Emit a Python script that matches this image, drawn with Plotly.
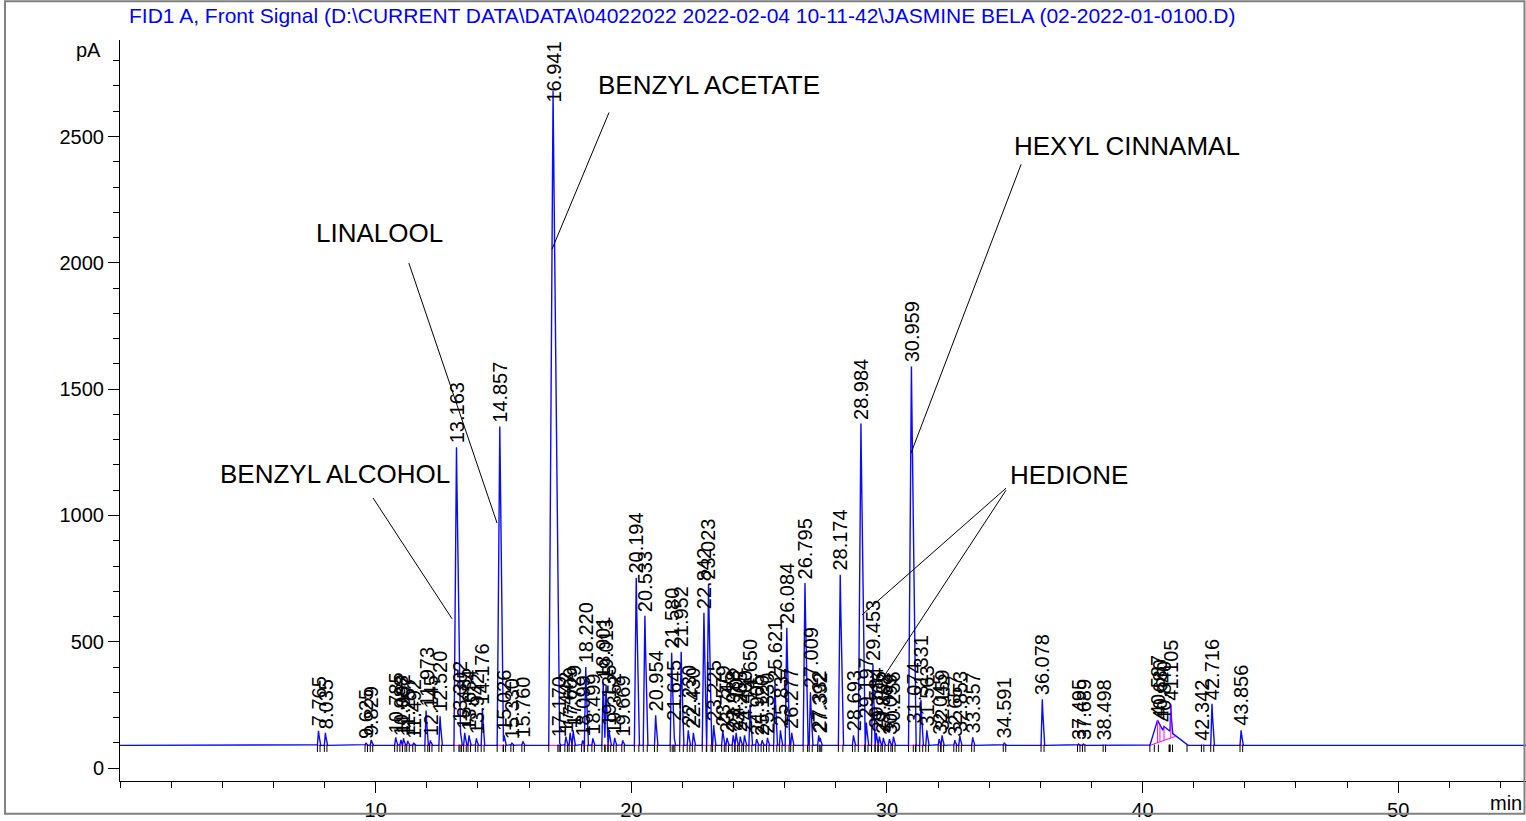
import numpy as np
import plotly.graph_objects as go

# ---------------- data ----------------
title_text = "FID1 A, Front Signal (D:\\CURRENT DATA\\DATA\\04022022 2022-02-04 10-11-42\\JASMINE BELA (02-2022-01-0100.D)"

baseline_pA = 90.0

peak_times = [7.765, 8.035, 9.625, 9.829, 10.785, 10.988, 11.092, 11.257, 11.492, 11.973,
              12.145, 12.520, 13.163, 13.302, 13.485, 13.654, 13.942, 14.176, 14.857, 15.026,
              15.330, 15.760, 16.941, 17.170, 17.442, 17.609, 17.729, 18.099, 18.220, 18.499,
              18.901, 19.013, 19.135, 19.352, 19.669, 20.194, 20.533, 20.954, 21.580, 21.645,
              21.952, 22.230, 22.430, 22.842, 23.023, 23.225, 23.579, 23.745, 23.988, 24.102,
              24.265, 24.430, 24.650, 24.905, 25.120, 25.330, 25.621, 25.837, 26.084, 26.277,
              26.795, 27.009, 27.332, 27.392, 28.174, 28.693, 28.984, 29.197, 29.453, 29.584,
              29.706, 29.862, 30.099, 30.256, 30.959, 31.074, 31.331, 31.563, 32.045, 32.159,
              32.657, 32.853, 33.357, 34.591, 36.078, 37.495, 37.689, 38.498, 40.587, 40.680,
              40.840, 41.105, 42.342, 42.716, 43.856]

peak_heights = [148, 140, 100, 112, 122, 112, 118, 108, 100, 228,
                110, 205, 1270, 165, 140, 130, 118, 235, 1352, 130,
                100, 106, 2680, 108, 125, 140, 150, 110, 400, 118,
                340, 330, 150, 120, 110, 753, 603, 209, 457, 170,
                461, 150, 140, 615, 730, 170, 150, 120, 130, 140,
                125, 130, 252, 115, 110, 120, 331, 150, 556, 140,
                733, 300, 130, 120, 765, 130, 1364, 180, 410, 140,
                125, 120, 115, 125, 1590, 160, 270, 150, 115, 130,
                110, 128, 122, 100, 272, 95, 95, 92, 190, 175,
                165, 252, 92, 255, 150]

peak_labels = ["%.3f" % t for t in peak_times]

# broad (unresolved) peaks: (left base width, right base width) in minutes
broad_peaks = {40.587: (0.30, 0.45), 40.680: (0.22, 0.40), 40.840: (0.22, 0.90)}
hump_group = [40.587, 40.680, 40.840, 41.105]

compound_names = ["BENZYL ACETATE", "LINALOOL", "BENZYL ALCOHOL", "HEXYL CINNAMAL", "HEDIONE"]
compound_text_pos = [(18.62, 2705), (7.59, 2117), (3.83, 1163), (34.89, 2461), (34.74, 1159)]
compound_leaders = [[(19.13, 2595, 16.90, 2054)],
                    [(11.30, 1999, 14.75, 970)],
                    [(9.90, 1069, 12.99, 591)],
                    [(35.25, 2390, 30.94, 1246)],
                    [(34.66, 1108, 29.03, 607), (34.66, 1100, 29.73, 339)]]

x_range = [0, 55]
y_range = [-51, 2882]
x_tickvals = [10, 20, 30, 40, 50]
y_tickvals = [0, 500, 1000, 1500, 2000, 2500]

# ---------------- build signal from peaks ----------------
grid = np.union1d(np.round(np.arange(x_range[0], x_range[1] + 1e-9, 0.004), 4), peak_times)
signal = np.full_like(grid, baseline_pA, dtype=float)
bounds = []
for t, h in zip(peak_times, peak_heights):
    wl, wr = broad_peaks.get(t, (0.035 + 0.00005 * h, 0.05 + 0.00007 * h))
    tri = np.interp(grid, [t - wl, t, t + wr], [baseline_pA, h, baseline_pA],
                    left=baseline_pA, right=baseline_pA)
    signal = np.maximum(signal, tri)
    bounds.append((t - wl, t + wr))

# integration baselines (magenta)
mx, my = [], []
for t, (a, b) in zip(peak_times, bounds):
    if t in hump_group:
        continue
    mx += [a, b, None]
    my += [baseline_pA, baseline_pA, None]
h_start = min(b[0] for t, b in zip(peak_times, bounds) if t in hump_group)
h_end = max(hump_group) + 0.2
h_end_val = float(np.interp(h_end, grid, signal))
mx += [h_start, h_end, None]
my += [baseline_pA, h_end_val, None]
for t in hump_group:
    bl = baseline_pA + (h_end_val - baseline_pA) * (t - h_start) / (h_end - h_start)
    mx += [t, t, None]
    my += [float(np.interp(t, grid, signal)), bl, None]

# start/stop tick marks (black)
tx, ty = [], []
for a, b in bounds:
    for v in (a, b):
        tx += [v, v, None]
        ty += [baseline_pA + 3, baseline_pA - 26, None]

fig = go.Figure()
fig.add_trace(go.Scatter(x=grid, y=signal, mode="lines",
                         line=dict(color="#0a0aff", width=1.4), hoverinfo="skip"))
fig.add_trace(go.Scatter(x=mx, y=my, mode="lines",
                         line=dict(color="#ff00ff", width=1), hoverinfo="skip"))
fig.add_trace(go.Scatter(x=tx, y=ty, mode="lines",
                         line=dict(color="black", width=1), hoverinfo="skip"))

FONT = "Arial, Liberation Sans, sans-serif"
label_len_pA = 240
annotations = []
for t, h, lab in zip(peak_times, peak_heights, peak_labels):
    if h + label_len_pA > y_range[1]:
        annotations.append(dict(x=t, y=y_range[1], xref="x", yref="y", text=lab,
                                textangle=-90, showarrow=False, xanchor="center", yanchor="top",
                                font=dict(family=FONT, size=20, color="black")))
    else:
        annotations.append(dict(x=t, y=h, xref="x", yref="y", text=lab, yshift=2,
                                textangle=-90, showarrow=False, xanchor="center", yanchor="bottom",
                                font=dict(family=FONT, size=20, color="black")))

shapes = []
for name, (x0, y0), leaders in zip(compound_names, compound_text_pos, compound_leaders):
    annotations.append(dict(x=x0, y=y0, xref="x", yref="y", text=name, showarrow=False,
                            xanchor="left", yanchor="middle",
                            font=dict(family=FONT, size=26, color="black")))
    for (a0, b0, a1, b1) in leaders:
        shapes.append(dict(type="line", xref="x", yref="y", x0=a0, y0=b0, x1=a1, y1=b1,
                           line=dict(color="black", width=1)))

W, H = 1526, 821
ML, MR, MT, MB = 120, 0, 40, 37
pw, ph = W - ML - MR, H - MT - MB

def px_to_paper(px, py):
    return (px - ML) / pw, (H - MB - py) / ph

tx0, ty0 = px_to_paper(127, 15)
annotations.append(dict(x=tx0, y=ty0, xref="paper", yref="paper", text=title_text,
                        showarrow=False, xanchor="left", yanchor="middle",
                        font=dict(family=FONT, size=21, color="#0000ff")))
pa_x, pa_y = px_to_paper(103, 50)
annotations.append(dict(x=pa_x, y=pa_y, xref="paper", yref="paper", text="pA",
                        showarrow=False, xanchor="right", yanchor="middle",
                        font=dict(family=FONT, size=20, color="black")))
mn_x, mn_y = px_to_paper(1524, 806)
annotations.append(dict(x=mn_x, y=mn_y, xref="paper", yref="paper", text="min",
                        showarrow=False, xanchor="right", yanchor="middle",
                        font=dict(family=FONT, size=20, color="black")))

fx0, fy0 = px_to_paper(5, 817)
fx1, fy1 = px_to_paper(1524.5, 1)
shapes.append(dict(type="rect", xref="paper", yref="paper", x0=fx0, y0=fy0, x1=fx1, y1=fy1,
                   line=dict(color="#808080", width=2), layer="above"))

fig.update_layout(
    width=W, height=H,
    margin=dict(l=ML, r=MR, t=MT, b=MB, pad=0),
    paper_bgcolor="white", plot_bgcolor="white",
    showlegend=False,
    annotations=annotations, shapes=shapes,
    xaxis=dict(range=x_range, showgrid=False, zeroline=False, showline=True,
               linecolor="black", linewidth=1, ticks="outside", ticklen=11, tickcolor="black",
               tickmode="array", tickvals=x_tickvals,
               tickfont=dict(family=FONT, size=20, color="black"),
               minor=dict(ticks="outside", ticklen=6, tickcolor="black",
                          tickmode="linear", tick0=0, dtick=2, showgrid=False)),
    yaxis=dict(range=y_range, showgrid=False, zeroline=False, showline=True,
               linecolor="black", linewidth=1, ticks="outside", ticklen=11, tickcolor="black",
               tickmode="array", tickvals=y_tickvals,
               tickfont=dict(family=FONT, size=20, color="black"),
               minor=dict(ticks="outside", ticklen=6, tickcolor="black",
                          tickmode="linear", tick0=0, dtick=100, showgrid=False)),
)

fig.write_html("out.html", config={"displayModeBar": False},
               post_script="document.body.style.margin='0';document.body.style.overflow='hidden';")
